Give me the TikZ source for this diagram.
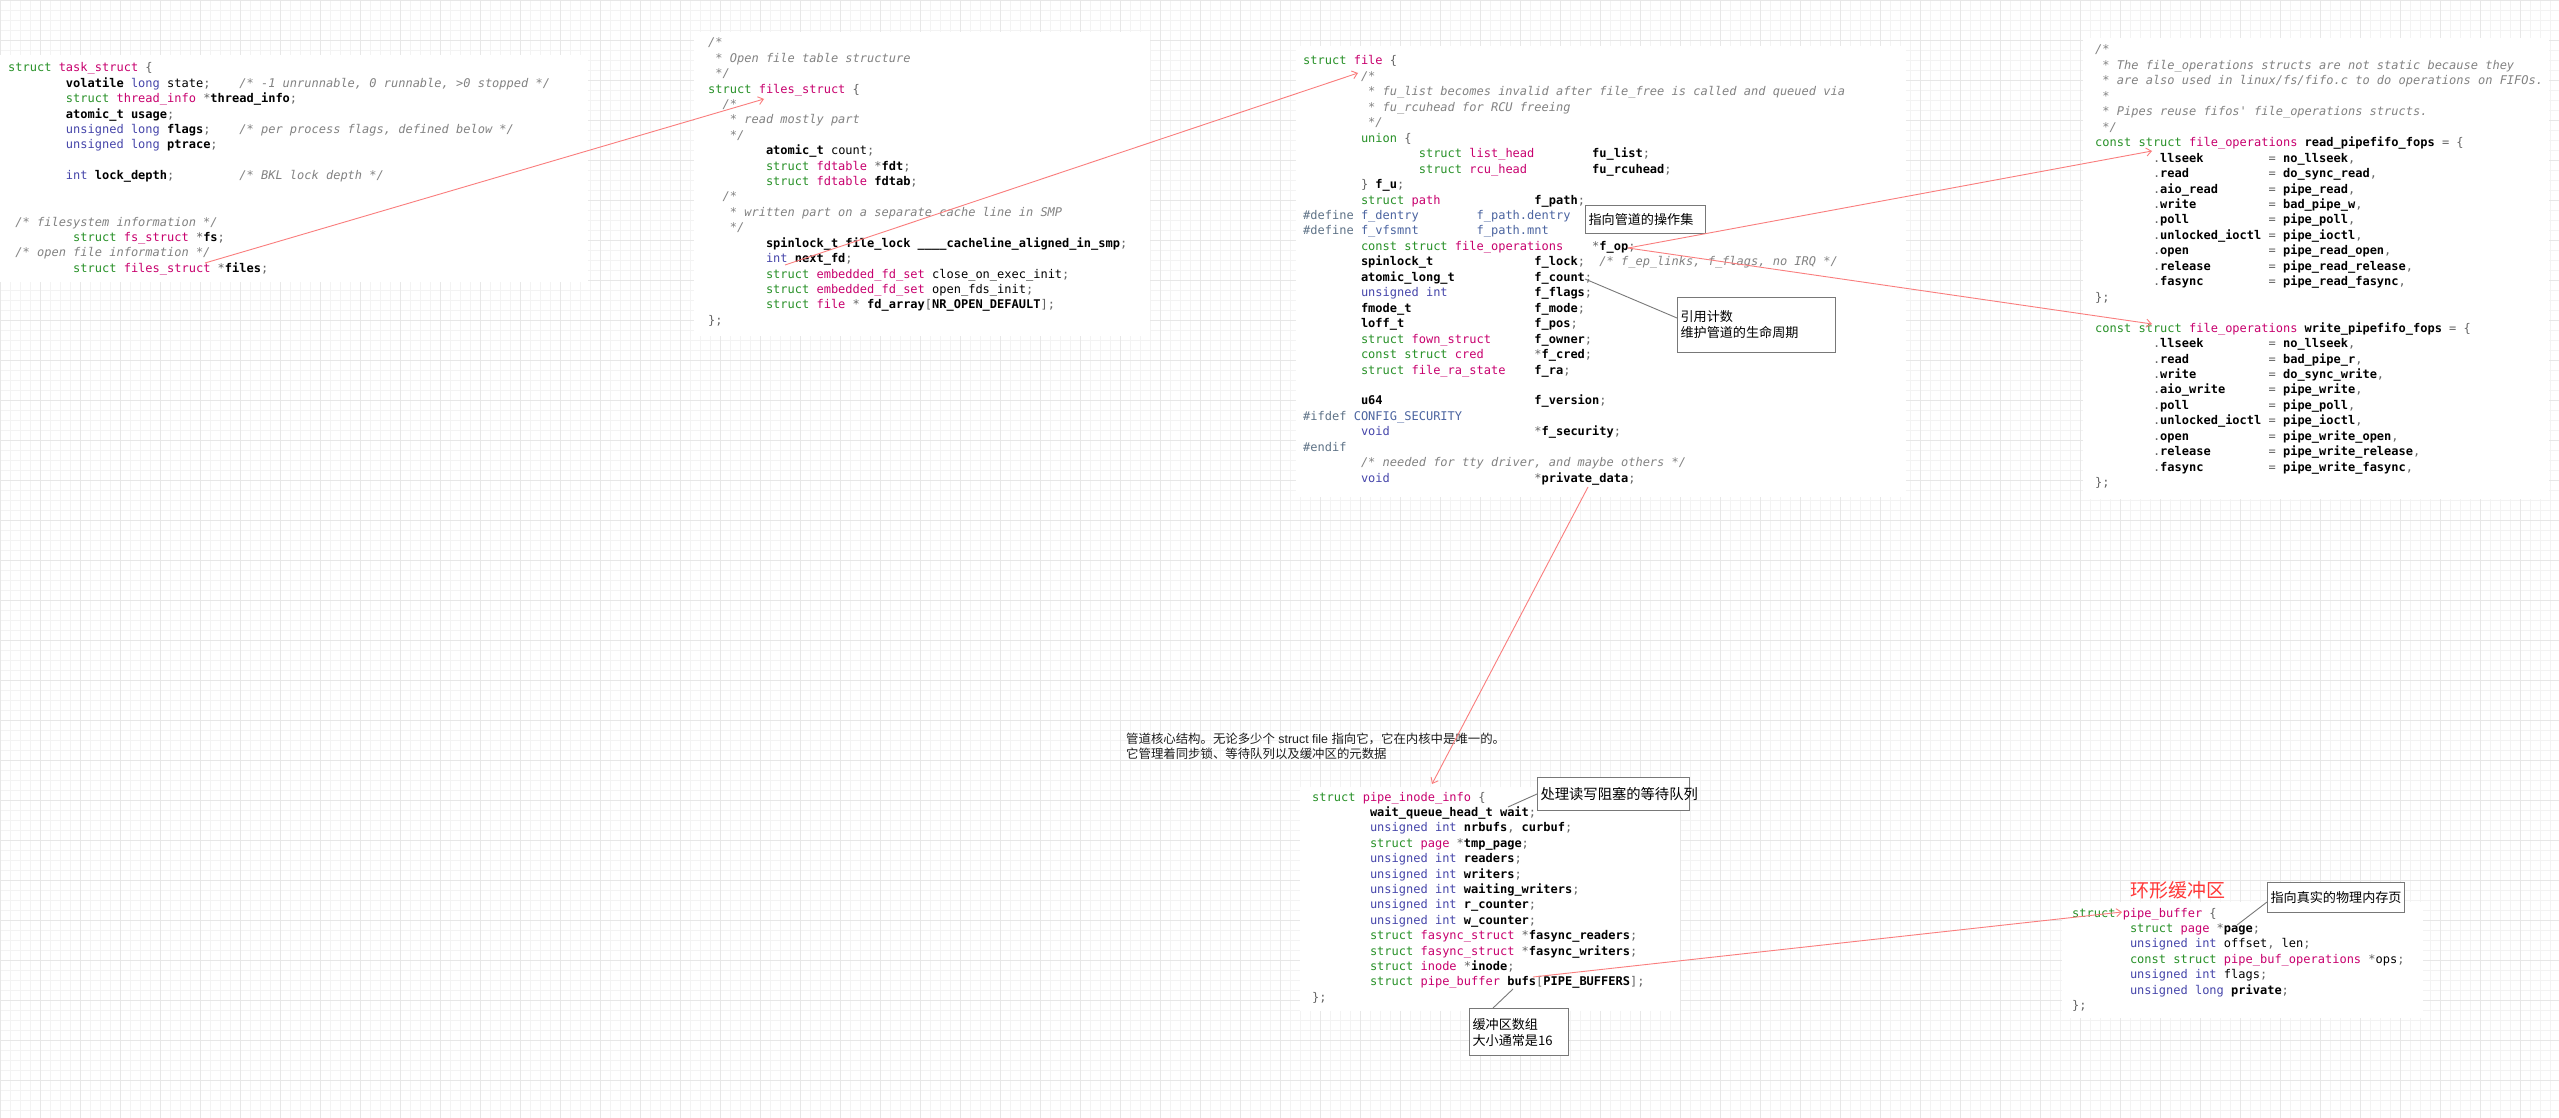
\documentclass[tikz,border=0pt]{standalone}
\usepackage{fontspec}
\usetikzlibrary{arrows.meta}
\newfontfamily\codefont{DejaVu Sans Mono}
\newfontfamily\cjk{Noto Sans CJK SC}
\newfontfamily\latinsans{Liberation Sans}
\definecolor{kwgreen}{RGB}{40,145,40}
\definecolor{tymag}{RGB}{200,0,110}
\definecolor{btblue}{RGB}{70,70,170}
\definecolor{cmgray}{RGB}{130,130,130}
\definecolor{pgray}{RGB}{100,100,100}
\definecolor{ppgray}{RGB}{95,115,135}
\definecolor{macblue}{RGB}{75,100,160}
\definecolor{redline}{RGB}{250,125,125}
\definecolor{boxgray}{RGB}{120,120,120}
\definecolor{gridminor}{RGB}{243,243,243}
\definecolor{gridmajor}{RGB}{231,231,231}
\definecolor{titlered}{RGB}{255,55,55}
\definecolor{annotext}{RGB}{30,30,30}
\newlength\codecw \setlength\codecw{7.2246pt}
\newcommand\cK[1]{\textcolor{kwgreen}{#1}}
\newcommand\cT[1]{\textcolor{tymag}{#1}}
\newcommand\cB[1]{\textbf{#1}}
\newcommand\cU[1]{\textcolor{btblue}{#1}}
\newcommand\cC[1]{\textcolor{cmgray}{\itshape #1}}
\newcommand\cP[1]{\textcolor{pgray}{#1}}
\newcommand\cD[1]{\textcolor{ppgray}{#1}}
\newcommand\cM[1]{\textcolor{macblue}{#1}}
\newcommand\cS[1]{\hspace*{#1\codecw}}
\newcommand\fop[3]{\cS{8}\cP{.}\cB{#1}\cS{#2}\cP{=} \cB{#3}\cP{,}}
\newcounter{lnc}
\newcommand\startblock[4]{\gdef\bpre{#1}\gdef\bx{#2}\gdef\by{#3}\gdef\bls{#4}\setcounter{lnc}{0}}
\newcommand\cln[1]{\node[code] (\bpre\arabic{lnc}) at (\bx,{\by+\bls*\arabic{lnc}}) {#1};\stepcounter{lnc}}
\newcommand\skipln{\stepcounter{lnc}}
\begin{document}
\begin{tikzpicture}[x=1pt,y=-1pt,
  code/.style={anchor=base west, inner sep=0pt, font=\codefont\fontsize{12}{15}\selectfont, text=black},
  cjkbox/.style={draw=boxgray, line width=1.1pt, fill=white, inner xsep=3pt, inner ysep=2pt, align=left, font=\cjk\fontsize{13.1}{16}\selectfont, anchor=north west, text=black},
  anno/.style={anchor=base west, inner sep=0pt, font=\cjk\fontsize{12.4}{15}\selectfont, text=annotext},
  redarrow/.style={draw=redline, line width=0.9pt, -{Straight Barb[length=5pt,width=8pt]}},
  leader/.style={draw=boxgray, line width=0.9pt},
  whitebg/.style={fill=white, draw=none}]
\useasboundingbox (0,0) rectangle (2559,1118);
\fill[white] (0,0) rectangle (2559,1118);
\draw[gridminor, line width=0.6pt, step=10pt] (0,0) grid (2559,1118);
\draw[gridmajor, line width=0.6pt, step=40pt] (0,0) grid (2559,1118);

% white backgrounds of code blocks
\fill[whitebg] (0,55) rectangle (588,282);
\fill[whitebg] (694,32) rectangle (1150,336);
\fill[whitebg] (1296,46) rectangle (1906,497);
\fill[whitebg] (2083,38) rectangle (2549,499);
\fill[whitebg] (1300,787) rectangle (1680,1011);
\fill[whitebg] (2062,902) rectangle (2423,1018);

% ---- task_struct
\startblock{ts}{8}{72}{15.4}
\cln{\cK{struct} \cT{task\_struct} \cP{\{}}
\cln{\cS{8}\cB{volatile} \cU{long} state\cP{;}\cS{4}\cC{/* -1 unrunnable, 0 runnable, >0 stopped */}}
\cln{\cS{8}\cK{struct} \cT{thread\_info} \cP{*}\cB{thread\_info}\cP{;}}
\cln{\cS{8}\cB{atomic\_t usage}\cP{;}}
\cln{\cS{8}\cU{unsigned long} \cB{flags}\cP{;}\cS{4}\cC{/* per process flags, defined below */}}
\cln{\cS{8}\cU{unsigned long} \cB{ptrace}\cP{;}}
\skipln
\cln{\cS{8}\cU{int} \cB{lock\_depth}\cP{;}\cS{9}\cC{/* BKL lock depth */}}
\skipln
\skipln
\cln{\cS{1}\cC{/* filesystem information */}}
\cln{\cS{9}\cK{struct} \cT{fs\_struct} \cP{*}\cB{fs}\cP{;}}
\cln{\cS{1}\cC{/* open file information */}}
\cln{\cS{9}\cK{struct} \cT{files\_struct} \cP{*}\cB{files}\cP{;}}

% ---- files_struct
\startblock{fs}{708}{47}{15.4}
\cln{\cC{/*}}
\cln{\cC{\cS{1}* Open file table structure}}
\cln{\cC{\cS{1}*/}}
\cln{\cK{struct} \cT{files\_struct} \cP{\{}}
\cln{\cS{2}\cC{/*}}
\cln{\cS{3}\cC{* read mostly part}}
\cln{\cS{3}\cC{*/}}
\cln{\cS{8}\cB{atomic\_t} count\cP{;}}
\cln{\cS{8}\cK{struct} \cT{fdtable} \cP{*}\cB{fdt}\cP{;}}
\cln{\cS{8}\cK{struct} \cT{fdtable} \cB{fdtab}\cP{;}}
\cln{\cS{2}\cC{/*}}
\cln{\cS{3}\cC{* written part on a separate cache line in SMP}}
\cln{\cS{3}\cC{*/}}
\cln{\cS{8}\cB{spinlock\_t file\_lock \_\_\_\_cacheline\_aligned\_in\_smp}\cP{;}}
\cln{\cS{8}\cU{int} \cB{next\_fd}\cP{;}}
\cln{\cS{8}\cK{struct} \cT{embedded\_fd\_set} close\_on\_exec\_init\cP{;}}
\cln{\cS{8}\cK{struct} \cT{embedded\_fd\_set} open\_fds\_init\cP{;}}
\cln{\cS{8}\cK{struct} \cT{file} \cP{*} \cB{fd\_array}\cP{[}\cB{NR\_OPEN\_DEFAULT}\cP{];}}
\cln{\cP{\};}}

% ---- struct file
\startblock{fl}{1303}{65}{15.45}
\cln{\cK{struct} \cT{file} \cP{\{}}
\cln{\cS{8}\cC{/*}}
\cln{\cS{9}\cC{* fu\_list becomes invalid after file\_free is called and queued via}}
\cln{\cS{9}\cC{* fu\_rcuhead for RCU freeing}}
\cln{\cS{9}\cC{*/}}
\cln{\cS{8}\cK{union} \cP{\{}}
\cln{\cS{16}\cK{struct} \cT{list\_head}\cS{8}\cB{fu\_list}\cP{;}}
\cln{\cS{16}\cK{struct} \cT{rcu\_head}\cS{9}\cB{fu\_rcuhead}\cP{;}}
\cln{\cS{8}\cP{\}} \cB{f\_u}\cP{;}}
\cln{\cS{8}\cK{struct} \cT{path}\cS{13}\cB{f\_path}\cP{;}}
\cln{\cD{\#define} \cM{f\_dentry}\cS{8}\cM{f\_path.dentry}}
\cln{\cD{\#define} \cM{f\_vfsmnt}\cS{8}\cM{f\_path.mnt}}
\cln{\cS{8}\cK{const struct} \cT{file\_operations}\cS{4}\cP{*}\cB{f\_op}\cP{;}}
\cln{\cS{8}\cB{spinlock\_t}\cS{14}\cB{f\_lock}\cP{;}\cS{2}\cC{/* f\_ep\_links, f\_flags, no IRQ */}}
\cln{\cS{8}\cB{atomic\_long\_t}\cS{11}\cB{f\_count}\cP{;}}
\cln{\cS{8}\cU{unsigned int}\cS{12}\cB{f\_flags}\cP{;}}
\cln{\cS{8}\cB{fmode\_t}\cS{17}\cB{f\_mode}\cP{;}}
\cln{\cS{8}\cB{loff\_t}\cS{18}\cB{f\_pos}\cP{;}}
\cln{\cS{8}\cK{struct} \cT{fown\_struct}\cS{6}\cB{f\_owner}\cP{;}}
\cln{\cS{8}\cK{const struct} \cT{cred}\cS{7}\cP{*}\cB{f\_cred}\cP{;}}
\cln{\cS{8}\cK{struct} \cT{file\_ra\_state}\cS{4}\cB{f\_ra}\cP{;}}
\skipln
\cln{\cS{8}\cB{u64}\cS{21}\cB{f\_version}\cP{;}}
\cln{\cD{\#ifdef} \cM{CONFIG\_SECURITY}}
\cln{\cS{8}\cU{void}\cS{20}\cP{*}\cB{f\_security}\cP{;}}
\cln{\cD{\#endif}}
\cln{\cS{8}\cC{/* needed for tty driver, and maybe others */}}
\cln{\cS{8}\cU{void}\cS{20}\cP{*}\cB{private\_data}\cP{;}}

% ---- file_operations
\startblock{op}{2095}{54}{15.45}
\cln{\cC{/*}}
\cln{\cC{\cS{1}* The file\_operations structs are not static because they}}
\cln{\cC{\cS{1}* are also used in linux/fs/fifo.c to do operations on FIFOs.}}
\cln{\cC{\cS{1}*}}
\cln{\cC{\cS{1}* Pipes reuse fifos\textquotesingle\ file\_operations structs.}}
\cln{\cC{\cS{1}*/}}
\cln{\cK{const struct} \cT{file\_operations} \cB{read\_pipefifo\_fops} \cP{= \{}}
\cln{\fop{llseek}{9}{no\_llseek}}
\cln{\fop{read}{11}{do\_sync\_read}}
\cln{\fop{aio\_read}{7}{pipe\_read}}
\cln{\fop{write}{10}{bad\_pipe\_w}}
\cln{\fop{poll}{11}{pipe\_poll}}
\cln{\fop{unlocked\_ioctl}{1}{pipe\_ioctl}}
\cln{\fop{open}{11}{pipe\_read\_open}}
\cln{\fop{release}{8}{pipe\_read\_release}}
\cln{\fop{fasync}{9}{pipe\_read\_fasync}}
\cln{\cP{\};}}
\skipln
\cln{\cK{const struct} \cT{file\_operations} \cB{write\_pipefifo\_fops} \cP{= \{}}
\cln{\fop{llseek}{9}{no\_llseek}}
\cln{\fop{read}{11}{bad\_pipe\_r}}
\cln{\fop{write}{10}{do\_sync\_write}}
\cln{\fop{aio\_write}{6}{pipe\_write}}
\cln{\fop{poll}{11}{pipe\_poll}}
\cln{\fop{unlocked\_ioctl}{1}{pipe\_ioctl}}
\cln{\fop{open}{11}{pipe\_write\_open}}
\cln{\fop{release}{8}{pipe\_write\_release}}
\cln{\fop{fasync}{9}{pipe\_write\_fasync}}
\cln{\cP{\};}}

% ---- pipe_inode_info
\startblock{pi}{1312}{801}{15.4}
\cln{\cK{struct} \cT{pipe\_inode\_info} \cP{\{}}
\cln{\cS{8}\cB{wait\_queue\_head\_t wait}\cP{;}}
\cln{\cS{8}\cU{unsigned int} \cB{nrbufs}\cP{,} \cB{curbuf}\cP{;}}
\cln{\cS{8}\cK{struct} \cT{page} \cP{*}\cB{tmp\_page}\cP{;}}
\cln{\cS{8}\cU{unsigned int} \cB{readers}\cP{;}}
\cln{\cS{8}\cU{unsigned int} \cB{writers}\cP{;}}
\cln{\cS{8}\cU{unsigned int} \cB{waiting\_writers}\cP{;}}
\cln{\cS{8}\cU{unsigned int} \cB{r\_counter}\cP{;}}
\cln{\cS{8}\cU{unsigned int} \cB{w\_counter}\cP{;}}
\cln{\cS{8}\cK{struct} \cT{fasync\_struct} \cP{*}\cB{fasync\_readers}\cP{;}}
\cln{\cS{8}\cK{struct} \cT{fasync\_struct} \cP{*}\cB{fasync\_writers}\cP{;}}
\cln{\cS{8}\cK{struct} \cT{inode} \cP{*}\cB{inode}\cP{;}}
\cln{\cS{8}\cK{struct} \cT{pipe\_buffer} \cB{bufs}\cP{[}\cB{PIPE\_BUFFERS}\cP{];}}
\cln{\cP{\};}}

% ---- pipe_buffer
\startblock{pb}{2072}{917}{15.4}
\cln{\cK{struct} \cT{pipe\_buffer} \cP{\{}}
\cln{\cS{8}\cK{struct} \cT{page} \cP{*}\cB{page}\cP{;}}
\cln{\cS{8}\cU{unsigned int} offset\cP{,} len\cP{;}}
\cln{\cS{8}\cK{const struct} \cT{pipe\_buf\_operations} \cP{*}ops\cP{;}}
\cln{\cS{8}\cU{unsigned int} flags\cP{;}}
\cln{\cS{8}\cU{unsigned long} \cB{private}\cP{;}}
\cln{\cP{\};}}

% ---- annotations
\node[anno] (anno1) at (1126,743) {管道核心结构。无论多少个{\latinsans\ struct file\ }指向它，它在内核中是唯一的。};
\node[anno] (anno2) at (1126,758) {它管理着同步锁、等待队列以及缓冲区的元数据};
\node[anchor=base west, inner sep=0pt, font=\cjk\fontsize{19}{22}\selectfont, text=titlered] (ringtitle) at (2130,897) {环形缓冲区};

\node[cjkbox, minimum height=28pt, text width=114pt] (bx1) at (1585,205) {指向管道的操作集};
\node[cjkbox, minimum height=55pt, text width=152pt] (bx2) at (1677,297) {引用计数\\维护管道的生命周期};
\node[cjkbox, minimum height=33pt, text width=146pt, font=\cjk\fontsize{14.3}{17}\selectfont] (bx3) at (1537,777) {处理读写阻塞的等待队列};
\node[cjkbox, minimum height=47pt, text width=93pt] (bx4) at (1469,1008) {缓冲区数组\\大小通常是16};
\node[cjkbox, minimum height=30pt, text width=131pt] (bx5) at (2267,882) {指向真实的物理内存页};

% ---- connector end points
\coordinate (tsFiles) at (205,263);
\coordinate (fsName) at (764,99);
\coordinate (fsNext) at (785,265);
\coordinate (flName) at (1358,73);
\coordinate (flOp) at (1628,248);
\coordinate (opRead) at (2152,151);
\coordinate (opWrite) at (2152,324);
\coordinate (flPriv) at (1588,487);
\coordinate (piName) at (1432,784);
\coordinate (piBufs) at (1533,977);
\coordinate (pbName) at (2122,912);
\coordinate (flCount) at (1585,279);
\coordinate (bx2in) at (1677,318);
\coordinate (bx3in) at (1537,794);
\coordinate (piWait) at (1508,807);
\coordinate (bx4in) at (1493,1008);
\coordinate (piBufsLow) at (1513,989);
\coordinate (bx5in) at (2267,902);
\coordinate (pbPage) at (2237,925);

% ---- red pointers
\draw[redarrow] (tsFiles) -- (fsName);
\draw[redarrow] (fsNext) -- (flName);
\draw[redarrow] (flOp) -- (opRead);
\draw[redarrow] (flOp) -- (opWrite);
\draw[redarrow] (flPriv) -- (piName);
\draw[redarrow] (piBufs) -- (pbName);

% ---- gray leaders
\draw[leader] (flCount) -- (bx2in);
\draw[leader] (bx3in) -- (piWait);
\draw[leader] (bx4in) -- (piBufsLow);
\draw[leader] (bx5in) -- (pbPage);
\end{tikzpicture}
\end{document}
